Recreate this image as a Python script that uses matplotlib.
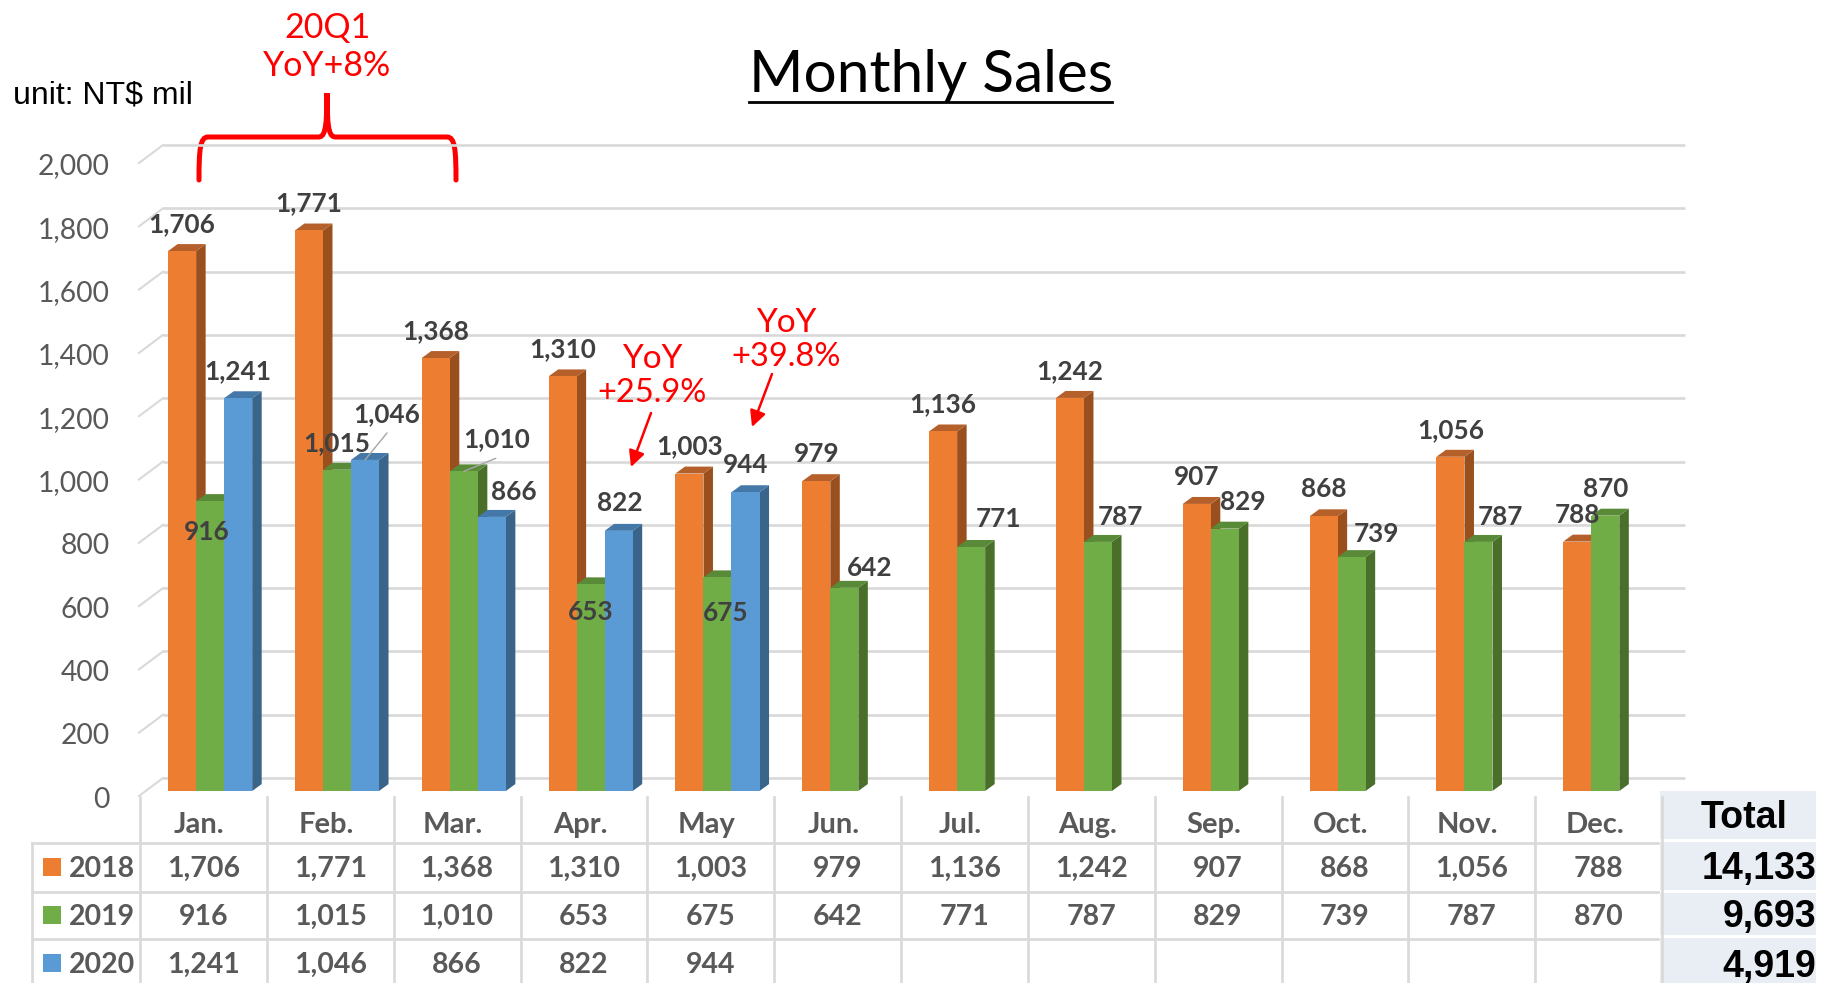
import numpy as np
import matplotlib
matplotlib.use("Agg")
import matplotlib.pyplot as plt
from matplotlib.patches import PathPatch, Rectangle
from matplotlib.path import Path
from matplotlib.transforms import Affine2D, blended_transform_factory

# ============================================================
# DATA
# ============================================================

MONTHS = ["Jan.", "Feb.", "Mar.", "Apr.", "May", "Jun.",
          "Jul.", "Aug.", "Sep.", "Oct.", "Nov.", "Dec."]
YEARS = ["2018", "2019", "2020"]

SALES_2018 = [1706, 1771, 1368, 1310, 1003, 979, 1136, 1242, 907, 868, 1056, 788]
SALES_2019 = [916, 1015, 1010, 653, 675, 642, 771, 787, 829, 739, 787, 870]
SALES_2020 = [1241, 1046, 866, 822, 944]
TOTALS = [14133, 9693, 4919]

Y_TICKS = [0, 200, 400, 600, 800, 1000, 1200, 1400, 1600, 1800, 2000]

# ============================================================
# STYLE
# ============================================================

W, H = 1822, 983
FONT = "Lato"
ARIAL = "Liberation Sans"
GRID = "#d9d9d9"
GREY = "#595959"
DARK = "#404040"
RED = "#ff0000"

# front, top, side colours per year
COLORS = [("#ed7d31", "#b5602a", "#9a501e"),
          ("#70ad47", "#588a37", "#4a6f2b"),
          ("#5b9bd5", "#4378a8", "#3a6489")]
BAR_OFFSETS = [-0.168, 0.053, 0.274]
BAR_WIDTH = 0.221
DEPTH_X = 0.075
DEPTH_Y = 22

# value label offsets from the top centre of each bar, in pixels
LABEL_OFFSETS = [
    [(0, 27)] * 12,
    [(-3, -31), (0, 27), (33, 32), (0, -28), (8, -36), (25, 20),
     (27, 28), (22, 25), (18, 27), (25, 23), (22, 25), (0, 27)],
    [(0, 27), (22, 46), (22, 25), (1, 28), (0, 27)],
]

# ============================================================
# LAYOUT
# ============================================================

fig = plt.figure(figsize=(W / 100, H / 100), dpi=100)

# pixel canvas for the things around the plot
bg = fig.add_axes([0, 0, 1, 1], zorder=0)
bg.set_xlim(0, W)
bg.set_ylim(H, 0)
bg.axis("off")

ax = fig.add_axes([140 / W, (H - 791) / H, 1522 / W, 633 / H], zorder=1)
ax.patch.set_alpha(0)
ax.set_xlim(-0.5, 11.5)
ax.set_ylim(0, 2000)
for s in ax.spines.values():
    s.set_visible(False)

# ============================================================
# GRID (back wall of the 3D chart)
# ============================================================

edge_tf = ax.transData + Affine2D().translate(-1, -5)
back_tf = ax.transData + Affine2D().translate(23, 13)
for v in Y_TICKS:
    bg.plot([-0.5, 11.5], [v, v], color=GRID, lw=1.9, transform=back_tf,
            solid_capstyle="butt")
    x0, y0 = edge_tf.transform((-0.5, v))
    x1, y1 = back_tf.transform((-0.5, v))
    bg.plot([x0, x1], [y0, y1], color=GRID, lw=1.5, transform=None)

# ============================================================
# BARS
# ============================================================

series = [SALES_2018, SALES_2019, SALES_2020]
for values, off, (front, top, side) in zip(series, BAR_OFFSETS, COLORS):
    xs = np.arange(len(values)) + off
    for x, v in zip(xs, values):
        right = x + BAR_WIDTH / 2
        left = x - BAR_WIDTH / 2
        ax.fill([right, right + DEPTH_X, right + DEPTH_X, right],
                [0, DEPTH_Y, v + DEPTH_Y, v], color=side, lw=0)
        ax.fill([left, left + DEPTH_X, right + DEPTH_X, right],
                [v, v + DEPTH_Y, v + DEPTH_Y, v], color=top, lw=0)
        ax.bar(x, v, width=BAR_WIDTH, color=front, lw=0)

for values, off, labels in zip(series, BAR_OFFSETS, LABEL_OFFSETS):
    for i, (v, (dx, dy)) in enumerate(zip(values, labels)):
        ax.annotate(f"{v:,}", (i + off, v), xytext=(dx, dy), textcoords="offset pixels",
                    ha="center", va="center", fontsize=18.8, fontweight="bold",
                    family=FONT, color=DARK, zorder=5)

# leader lines of the two moved labels
ax.annotate("", (1 + BAR_OFFSETS[2], SALES_2020[1]), xytext=(22, 27), textcoords="offset pixels",
            arrowprops=dict(arrowstyle="-", color="#a6a6a6", lw=1, shrinkA=0, shrinkB=0))
ax.annotate("", (2 + BAR_OFFSETS[1], SALES_2019[2]), xytext=(32, 13), textcoords="offset pixels",
            arrowprops=dict(arrowstyle="-", color="#a6a6a6", lw=1, shrinkA=0, shrinkB=0))

# ============================================================
# AXIS LABELS
# ============================================================

ax.set_yticks(Y_TICKS)
ax.set_yticklabels([f"{v:,}" for v in Y_TICKS], family=FONT, fontsize=20.3, color=GREY)
ax.tick_params(axis="y", length=0, pad=22)
for lab in ax.get_yticklabels():
    lab.set_transform(lab.get_transform() + Affine2D().translate(0, -6))

ax.set_xticks(range(12))
ax.set_xticklabels(MONTHS, family=FONT, fontsize=21, fontweight="bold", color=GREY)
ax.tick_params(axis="x", length=0, pad=15)
for lab in ax.get_xticklabels():
    lab.set_transform(lab.get_transform() + Affine2D().translate(-4, 0))

# ============================================================
# DATA TABLE
# ============================================================

TABLE_X = [-0.5 + i for i in range(13)]
x_px = blended_transform_factory(ax.transData, bg.transData)

for x in TABLE_X:
    ax.plot([x, x], [797, H], color=GRID, lw=1.9, transform=x_px, clip_on=False)
bg.plot([32, 32], [843, H], color=GRID, lw=1.9)
for y in [843, 892, 939]:
    bg.plot([32, 1658], [y, y], color=GRID, lw=1.9)

ROW_Y = [869, 917, 965]
for values, year, y, (front, _, _) in zip(series, YEARS, ROW_Y, COLORS):
    bg.add_patch(Rectangle((43, y - 11), 18, 18, color=front, lw=0))
    bg.text(69, y, year, ha="left", va="center", family=FONT, fontsize=20.5,
            fontweight="bold", color=GREY)
    for i, v in enumerate(values):
        ax.text(i, y, f"{v:,}", transform=x_px, ha="center", va="center", family=FONT,
                fontsize=20.5, fontweight="bold", color=GREY)

# total column
for y0, y1 in [(791, 839), (842, 890), (893, 935), (938, H)]:
    bg.add_patch(Rectangle((1660, y0), 156, y1 - y0, color="#e9edf4", lw=0))
bg.text(1744, 818, "Total", ha="center", va="center", family=ARIAL, fontsize=27,
        fontweight="bold", color="black")
for total, y in zip(TOTALS, [869, 917, 967]):
    bg.text(1816, y, f"{total:,}", ha="right", va="center", family=ARIAL, fontsize=27,
            fontweight="bold", color="black")

# ============================================================
# TITLE AND NOTES
# ============================================================

bg.text(931, 75, "Monthly Sales", ha="center", va="center", family=FONT, fontsize=42.2,
        color="black")
bg.plot([749, 1112], [102, 102], color="black", lw=2)
bg.text(13, 95, "unit: NT$ mil", ha="left", va="center", family=ARIAL, fontsize=23,
        color="black")

bg.text(327, 28, "20Q1", ha="center", va="center", family=FONT, fontsize=24.5, color=RED)
bg.text(327, 66, "YoY+8%", ha="center", va="center", family=FONT, fontsize=24.5, color=RED)

brace = Path(
    [(199, 180), (199, 150), (200, 137), (208, 137), (318, 137),
     (324, 137), (327, 133), (327, 93),
     (327, 133), (330, 137), (336, 137), (447, 137),
     (455, 137), (456, 150), (456, 180)],
    [Path.MOVETO, Path.CURVE4, Path.CURVE4, Path.CURVE4, Path.LINETO,
     Path.CURVE4, Path.CURVE4, Path.CURVE4,
     Path.CURVE4, Path.CURVE4, Path.CURVE4, Path.LINETO,
     Path.CURVE4, Path.CURVE4, Path.CURVE4])
bg.add_patch(PathPatch(brace, fill=False, edgecolor=RED, lw=3.6, capstyle="round"))

for cx, y_top, pct, start, end in [(652, 359, "+25.9%", (651, 413), (631, 467)),
                                   (786, 323, "+39.8%", (772, 374), (752, 427))]:
    bg.text(cx, y_top, "YoY", ha="center", va="center", family=FONT, fontsize=24, color=RED)
    bg.text(cx, y_top + 34, pct, ha="center", va="center", family=FONT, fontsize=23.5, color=RED)
    bg.annotate("", end, xytext=start,
                arrowprops=dict(arrowstyle="-|>", color=RED, lw=1.8, mutation_scale=24,
                                shrinkA=0, shrinkB=0))

plt.savefig("out.png", dpi=100)
plt.close()
